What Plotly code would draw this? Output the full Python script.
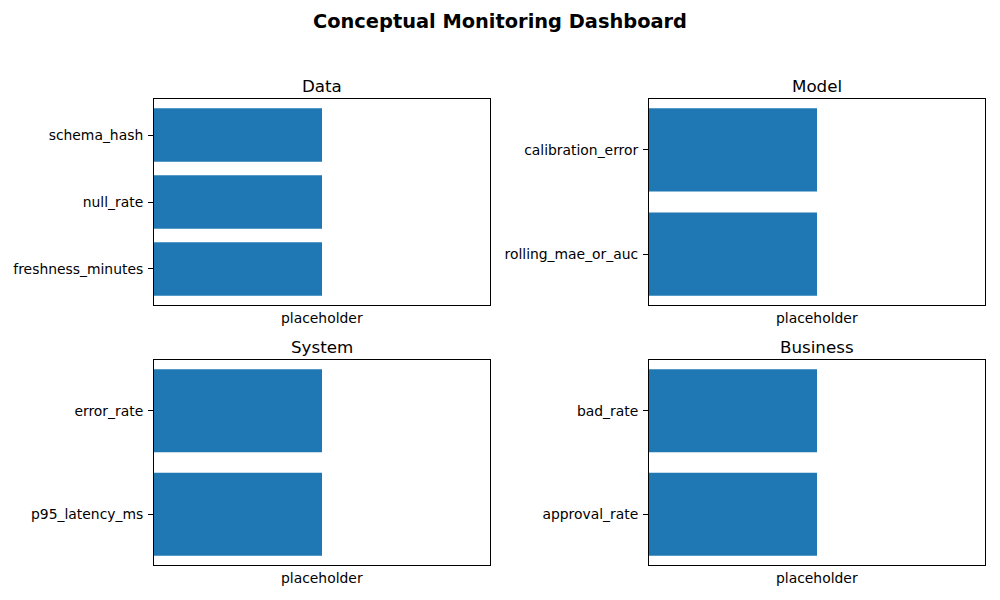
import plotly.graph_objects as go

# Data
panel_titles = ["Data", "Model", "System", "Business"]
panel_metrics = [
    ["freshness_minutes", "null_rate", "schema_hash"],
    ["rolling_mae_or_auc", "calibration_error"],
    ["p95_latency_ms", "error_rate"],
    ["approval_rate", "bad_rate"],
]
panel_values = [
    [1, 1, 1],
    [1, 1],
    [1, 1],
    [1, 1],
]
x_label = "placeholder"
main_title = "Conceptual Monitoring Dashboard"

OFF = 8  # page body margin
W, H = 1000 - 2 * OFF, 600 - 2 * OFF
# pixel boxes in the target window (left, right, top, bottom)
boxes = [(154, 490, 99, 305), (649, 985, 99, 305), (154, 490, 360, 565), (649, 985, 360, 565)]
FONT = "DejaVu Sans"
BLUE = "#1f77b4"


def px(x):
    return (x - OFF) / W


def py(y):
    return (H - (y - OFF)) / H


fig = go.Figure()
annotations = []
for i, (title, cats, vals) in enumerate(zip(panel_titles, panel_metrics, panel_values)):
    n = i + 1
    xa = "x" if n == 1 else f"x{n}"
    ya = "y" if n == 1 else f"y{n}"
    fig.add_trace(go.Bar(
        x=vals, y=list(range(len(cats))), orientation="h", width=0.8,
        marker=dict(color=BLUE, line=dict(width=0)), xaxis=xa, yaxis=ya,
        showlegend=False, hoverinfo="skip",
    ))
    l, r, t, b = boxes[i]
    nb = len(cats)
    span = (nb - 1) + 0.8
    pad = span * 0.05
    yr = [-0.4 - pad, nb - 1 + 0.4 + pad]
    xkey = "xaxis" if n == 1 else f"xaxis{n}"
    ykey = "yaxis" if n == 1 else f"yaxis{n}"
    fig.update_layout(**{
        xkey: dict(domain=[px(l), px(r)], anchor=ya, range=[0, 2], showticklabels=False,
                   ticks="", showgrid=False, zeroline=False, showline=True, linecolor="black",
                   linewidth=1, mirror=True, fixedrange=True),
        ykey: dict(domain=[py(b), py(t)], anchor=xa, range=yr,
                   tickvals=list(range(nb)), ticktext=cats, ticks="outside", ticklen=5,
                   tickcolor="black", tickwidth=1, showgrid=False, zeroline=False,
                   showline=True, linecolor="black", linewidth=1, mirror=True,
                   ticklabelstandoff=2,
                   tickfont=dict(family=FONT, size=13.9, color="black")),
    })
    annotations.append(dict(text=title, x=px((l + r) / 2), y=py(t - 1), xref="paper",
                            yref="paper", xanchor="center", yanchor="bottom", showarrow=False,
                            font=dict(family=FONT, size=16.7, color="black")))
    annotations.append(dict(text=x_label, x=px((l + r) / 2), y=py(b + 3), xref="paper",
                            yref="paper", xanchor="center", yanchor="top", showarrow=False,
                            font=dict(family=FONT, size=13.9, color="black")))

annotations.append(dict(text="<b>" + main_title + "</b>", x=px(500), y=py(21), xref="paper",
                        yref="paper", xanchor="center", yanchor="middle", showarrow=False,
                        font=dict(family=FONT, size=19.4, color="black")))

fig.update_layout(width=W, height=H, margin=dict(l=0, r=0, t=0, b=0),
                  paper_bgcolor="white", plot_bgcolor="white", annotations=annotations,
                  font=dict(family=FONT, color="black"))
fig.write_html("out.html")
